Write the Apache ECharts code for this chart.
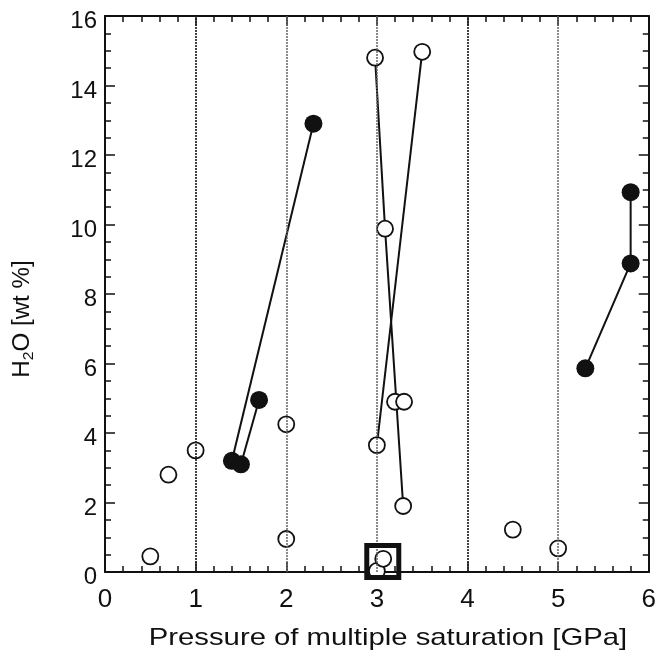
<!DOCTYPE html>
<html>
<head>
<meta charset="utf-8">
<script src="https://cdn.jsdelivr.net/npm/echarts@6/dist/echarts.min.js"></script>
<style>
  html, body { margin: 0; padding: 0; background: #fff; }
  #chart { width: 659px; height: 664px; }
</style>
</head>
<body>
<div id="chart"></div>
<script>
// tick labels
var xTicks = [0, 1, 2, 3, 4, 5, 6];
var yTicks = [0, 2, 4, 6, 8, 10, 12, 14, 16];

// connected runs [GPa, wt%]
var filledA = [[1.40, 3.2], [2.30, 12.9]];
var filledB = [[1.50, 3.1], [1.70, 4.95]];
var filledC = [[5.30, 5.86], [5.80, 8.88], [5.80, 10.93]];
var openA = [[2.98, 14.8], [3.09, 9.88], [3.29, 1.9]];
var openB = [[3.50, 14.97], [3.00, 3.65]];

// unconnected open circles
var openSingle = [
  [0.50, 0.45], [0.70, 2.8], [1.00, 3.5], [2.00, 4.25], [2.00, 0.95],
  [3.20, 4.9], [3.30, 4.9], [3.00, 0.03], [3.07, 0.38], [4.50, 1.22], [5.00, 0.68]
];
// boxed point
var boxed = [[3.065, 0.3]];
// vertical guide lines
var guideDark = [1, 4];
var guideLight = [2, 3, 5];

var font = "'Liberation Sans', Arial, sans-serif";
var chart = echarts.init(document.getElementById('chart'), null, {renderer: 'canvas'});

function runLine(data) {
  return {
    type: 'line', data: data, symbol: 'none', silent: true, z: 2,
    lineStyle: {color: '#111', width: 2}
  };
}
function openPts(data) {
  return {
    type: 'scatter', data: data, symbol: 'circle', symbolSize: 16, z: 4, clip: false,
    itemStyle: {color: '#fff', borderColor: '#111', borderWidth: 1.8, opacity: 1}
  };
}
function filledPts(data) {
  return {
    type: 'scatter', data: data, symbol: 'circle', symbolSize: 18, z: 4, clip: false,
    itemStyle: {color: '#111', opacity: 1}
  };
}

var axisLine = {show: true, onZero: false, lineStyle: {color: '#111', width: 2}};
var axisTick = {show: true, inside: true, length: 10, lineStyle: {color: '#111', width: 1.5}};
function minor(n) {
  return {show: true, splitNumber: n, length: 6, lineStyle: {color: '#111', width: 1.5}};
}

var option = {
  animation: false,
  backgroundColor: '#fff',
  grid: {left: 105, top: 16, right: 5, bottom: 92},
  xAxis: [
    {
      type: 'value', min: 0, max: 6, interval: 1, position: 'bottom',
      axisLine: axisLine, axisTick: axisTick, minorTick: minor(5), splitLine: {show: false},
      axisLabel: {fontFamily: font, fontSize: 26, color: '#111', margin: 15,
        formatter: function (v) { return xTicks.indexOf(v) >= 0 ? String(v) : ''; }}
    },
    {
      type: 'value', min: 0, max: 6, interval: 1, position: 'top',
      axisLine: axisLine, axisTick: axisTick, minorTick: minor(5), splitLine: {show: false},
      axisLabel: {show: false}
    }
  ],
  yAxis: [
    {
      type: 'value', min: 0, max: 16, interval: 2, position: 'left',
      axisLine: axisLine, axisTick: axisTick, minorTick: minor(4), splitLine: {show: false},
      axisLabel: {fontFamily: font, fontSize: 24, color: '#111', margin: 8,
        verticalAlign: 'top', lineHeight: 11,
        formatter: function (v) { return yTicks.indexOf(v) >= 0 ? String(v) : ''; }}
    },
    {
      type: 'value', min: 0, max: 16, interval: 2, position: 'right',
      axisLine: axisLine, axisTick: axisTick, minorTick: minor(4), splitLine: {show: false},
      axisLabel: {show: false}
    }
  ],
  graphic: [
    {
      type: 'text', x: 23, y: 319, rotation: Math.PI / 2, scaleX: 1.05,
      style: {
        text: '{a|H}{s|2}{a|O [wt %]}', align: 'center', verticalAlign: 'middle',
        rich: {
          a: {fontFamily: font, fontSize: 23, fill: '#111'},
          s: {fontFamily: font, fontSize: 15, fill: '#111', padding: [11, 0, 0, 0]}
        }
      }
    },
    {
      type: 'text', x: 388, y: 638, scaleX: 1.22,
      style: {
        text: 'Pressure of multiple saturation [GPa]', align: 'center', verticalAlign: 'middle',
        fontFamily: font, fontSize: 24, fill: '#111'
      }
    }
  ],
  series: [
    {
      type: 'line', data: [], symbol: 'none', silent: true, z: 1,
      markLine: {
        silent: true, symbol: 'none', label: {show: false},
        data: guideDark.map(function (v) {
          return {xAxis: v, lineStyle: {color: '#222', width: 1.7, type: [2, 1]}};
        }).concat(guideLight.map(function (v) {
          return {xAxis: v, lineStyle: {color: '#666', width: 1.5, type: [2, 1]}};
        }))
      }
    },
    runLine(filledA), runLine(filledB), runLine(filledC), runLine(openA), runLine(openB),
    filledPts(filledA), filledPts(filledB), filledPts(filledC),
    openPts(openA), openPts(openB), openPts(openSingle),
    {
      type: 'scatter', data: boxed, symbol: 'rect', symbolSize: 32, z: 5, clip: false,
      itemStyle: {color: 'rgba(0,0,0,0)', borderColor: '#111', borderWidth: 5, opacity: 1}
    }
  ]
};
chart.setOption(option);
</script>
</body>
</html>
